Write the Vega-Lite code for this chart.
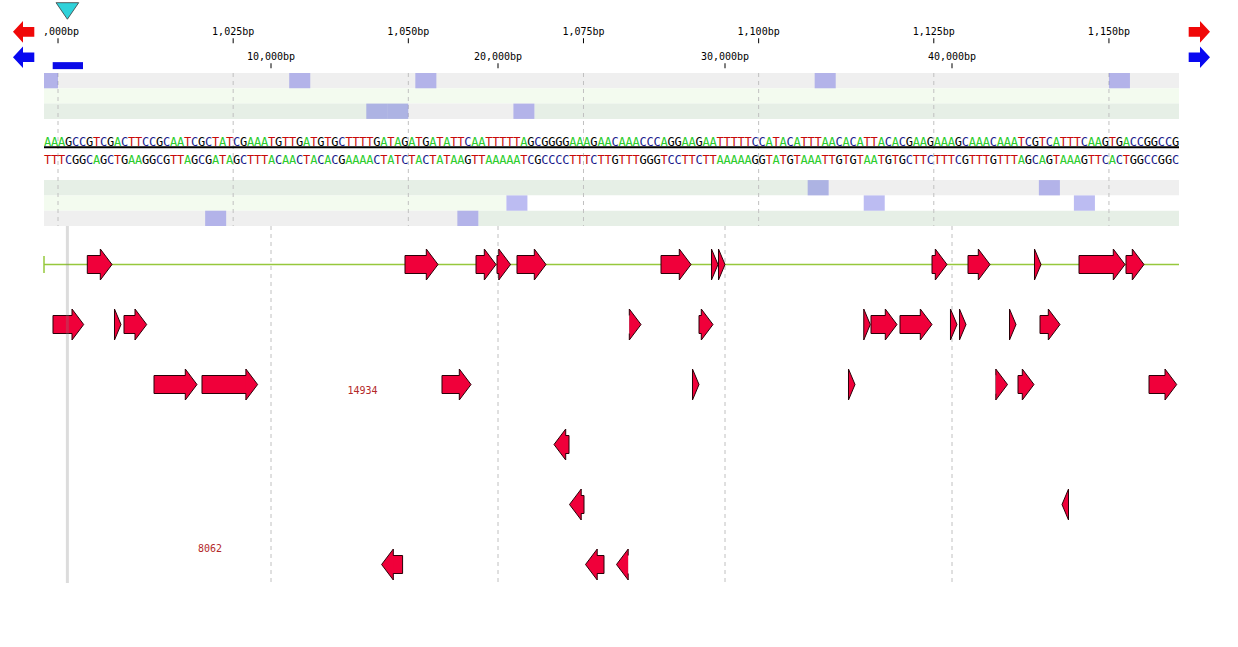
{
  "$schema": "https://vega.github.io/schema/vega-lite/v6.json",
  "autosize": {"type": "pad"},
  "padding": {"left": 12, "top": 0, "right": 29, "bottom": 64},
  "background": "white",
  "bounds": "flush",
  "spacing": 0,
  "config": {"view": {"stroke": null}, "font": "DejaVu Sans Mono", "scale": {"continuousPadding": 0}},
  "datasets": {
    "ruler1": [
      {"bp": 1000, "label": "1,000bp"}, {"bp": 1025, "label": "1,025bp"}, {"bp": 1050, "label": "1,050bp"},
      {"bp": 1075, "label": "1,075bp"}, {"bp": 1100, "label": "1,100bp"}, {"bp": 1125, "label": "1,125bp"},
      {"bp": 1150, "label": "1,150bp"}
    ],
    "ruler2": [
      {"pos": 10000, "label": "10,000bp"}, {"pos": 20000, "label": "20,000bp"},
      {"pos": 30000, "label": "30,000bp"}, {"pos": 40000, "label": "40,000bp"}
    ],
    "bg": [
      {"row": "F1", "start": 998, "end": 1160, "state": "gray"},
      {"row": "F2", "start": 998, "end": 1160, "state": "pale"},
      {"row": "F3", "start": 998, "end": 1050, "state": "green"},
      {"row": "F3", "start": 1050, "end": 1068, "state": "gray"},
      {"row": "F3", "start": 1068, "end": 1160, "state": "green"},
      {"row": "R1", "start": 998, "end": 1110, "state": "green"},
      {"row": "R1", "start": 1110, "end": 1160, "state": "gray"},
      {"row": "R2", "start": 998, "end": 1064, "state": "pale"},
      {"row": "R2", "start": 1064, "end": 1160, "state": "white"},
      {"row": "R3", "start": 998, "end": 1060, "state": "gray"},
      {"row": "R3", "start": 1060, "end": 1160, "state": "green"}
    ],
    "stops": [
      {"row": "F1", "start": 997, "end": 1000}, {"row": "F1", "start": 1033, "end": 1036},
      {"row": "F1", "start": 1051, "end": 1054}, {"row": "F1", "start": 1108, "end": 1111},
      {"row": "F1", "start": 1150, "end": 1153},
      {"row": "F3", "start": 1044, "end": 1047}, {"row": "F3", "start": 1047, "end": 1050},
      {"row": "F3", "start": 1065, "end": 1068},
      {"row": "R1", "start": 1107, "end": 1110}, {"row": "R1", "start": 1140, "end": 1143},
      {"row": "R2", "start": 1064, "end": 1067}, {"row": "R2", "start": 1115, "end": 1118},
      {"row": "R2", "start": 1145, "end": 1148},
      {"row": "R3", "start": 1021, "end": 1024}, {"row": "R3", "start": 1057, "end": 1060}
    ],
    "seq": [
      {"p":998,"s":"A","c":"T"},{"p":999,"s":"A","c":"T"},{"p":1000,"s":"A","c":"T"},{"p":1001,"s":"G","c":"C"},{"p":1002,"s":"C","c":"G"},
      {"p":1003,"s":"C","c":"G"},{"p":1004,"s":"G","c":"C"},{"p":1005,"s":"T","c":"A"},{"p":1006,"s":"C","c":"G"},{"p":1007,"s":"G","c":"C"},
      {"p":1008,"s":"A","c":"T"},{"p":1009,"s":"C","c":"G"},{"p":1010,"s":"T","c":"A"},{"p":1011,"s":"T","c":"A"},{"p":1012,"s":"C","c":"G"},
      {"p":1013,"s":"C","c":"G"},{"p":1014,"s":"G","c":"C"},{"p":1015,"s":"C","c":"G"},{"p":1016,"s":"A","c":"T"},{"p":1017,"s":"A","c":"T"},
      {"p":1018,"s":"T","c":"A"},{"p":1019,"s":"C","c":"G"},{"p":1020,"s":"G","c":"C"},{"p":1021,"s":"C","c":"G"},{"p":1022,"s":"T","c":"A"},
      {"p":1023,"s":"A","c":"T"},{"p":1024,"s":"T","c":"A"},{"p":1025,"s":"C","c":"G"},{"p":1026,"s":"G","c":"C"},{"p":1027,"s":"A","c":"T"},
      {"p":1028,"s":"A","c":"T"},{"p":1029,"s":"A","c":"T"},{"p":1030,"s":"T","c":"A"},{"p":1031,"s":"G","c":"C"},{"p":1032,"s":"T","c":"A"},
      {"p":1033,"s":"T","c":"A"},{"p":1034,"s":"G","c":"C"},{"p":1035,"s":"A","c":"T"},{"p":1036,"s":"T","c":"A"},{"p":1037,"s":"G","c":"C"},
      {"p":1038,"s":"T","c":"A"},{"p":1039,"s":"G","c":"C"},{"p":1040,"s":"C","c":"G"},{"p":1041,"s":"T","c":"A"},{"p":1042,"s":"T","c":"A"},
      {"p":1043,"s":"T","c":"A"},{"p":1044,"s":"T","c":"A"},{"p":1045,"s":"G","c":"C"},{"p":1046,"s":"A","c":"T"},{"p":1047,"s":"T","c":"A"},
      {"p":1048,"s":"A","c":"T"},{"p":1049,"s":"G","c":"C"},{"p":1050,"s":"A","c":"T"},{"p":1051,"s":"T","c":"A"},{"p":1052,"s":"G","c":"C"},
      {"p":1053,"s":"A","c":"T"},{"p":1054,"s":"T","c":"A"},{"p":1055,"s":"A","c":"T"},{"p":1056,"s":"T","c":"A"},{"p":1057,"s":"T","c":"A"},
      {"p":1058,"s":"C","c":"G"},{"p":1059,"s":"A","c":"T"},{"p":1060,"s":"A","c":"T"},{"p":1061,"s":"T","c":"A"},{"p":1062,"s":"T","c":"A"},
      {"p":1063,"s":"T","c":"A"},{"p":1064,"s":"T","c":"A"},{"p":1065,"s":"T","c":"A"},{"p":1066,"s":"A","c":"T"},{"p":1067,"s":"G","c":"C"},
      {"p":1068,"s":"C","c":"G"},{"p":1069,"s":"G","c":"C"},{"p":1070,"s":"G","c":"C"},{"p":1071,"s":"G","c":"C"},{"p":1072,"s":"G","c":"C"},
      {"p":1073,"s":"A","c":"T"},{"p":1074,"s":"A","c":"T"},{"p":1075,"s":"A","c":"T"},{"p":1076,"s":"G","c":"C"},{"p":1077,"s":"A","c":"T"},
      {"p":1078,"s":"A","c":"T"},{"p":1079,"s":"C","c":"G"},{"p":1080,"s":"A","c":"T"},{"p":1081,"s":"A","c":"T"},{"p":1082,"s":"A","c":"T"},
      {"p":1083,"s":"C","c":"G"},{"p":1084,"s":"C","c":"G"},{"p":1085,"s":"C","c":"G"},{"p":1086,"s":"A","c":"T"},{"p":1087,"s":"G","c":"C"},
      {"p":1088,"s":"G","c":"C"},{"p":1089,"s":"A","c":"T"},{"p":1090,"s":"A","c":"T"},{"p":1091,"s":"G","c":"C"},{"p":1092,"s":"A","c":"T"},
      {"p":1093,"s":"A","c":"T"},{"p":1094,"s":"T","c":"A"},{"p":1095,"s":"T","c":"A"},{"p":1096,"s":"T","c":"A"},{"p":1097,"s":"T","c":"A"},
      {"p":1098,"s":"T","c":"A"},{"p":1099,"s":"C","c":"G"},{"p":1100,"s":"C","c":"G"},{"p":1101,"s":"A","c":"T"},{"p":1102,"s":"T","c":"A"},
      {"p":1103,"s":"A","c":"T"},{"p":1104,"s":"C","c":"G"},{"p":1105,"s":"A","c":"T"},{"p":1106,"s":"T","c":"A"},{"p":1107,"s":"T","c":"A"},
      {"p":1108,"s":"T","c":"A"},{"p":1109,"s":"A","c":"T"},{"p":1110,"s":"A","c":"T"},{"p":1111,"s":"C","c":"G"},{"p":1112,"s":"A","c":"T"},
      {"p":1113,"s":"C","c":"G"},{"p":1114,"s":"A","c":"T"},{"p":1115,"s":"T","c":"A"},{"p":1116,"s":"T","c":"A"},{"p":1117,"s":"A","c":"T"},
      {"p":1118,"s":"C","c":"G"},{"p":1119,"s":"A","c":"T"},{"p":1120,"s":"C","c":"G"},{"p":1121,"s":"G","c":"C"},{"p":1122,"s":"A","c":"T"},
      {"p":1123,"s":"A","c":"T"},{"p":1124,"s":"G","c":"C"},{"p":1125,"s":"A","c":"T"},{"p":1126,"s":"A","c":"T"},{"p":1127,"s":"A","c":"T"},
      {"p":1128,"s":"G","c":"C"},{"p":1129,"s":"C","c":"G"},{"p":1130,"s":"A","c":"T"},{"p":1131,"s":"A","c":"T"},{"p":1132,"s":"A","c":"T"},
      {"p":1133,"s":"C","c":"G"},{"p":1134,"s":"A","c":"T"},{"p":1135,"s":"A","c":"T"},{"p":1136,"s":"A","c":"T"},{"p":1137,"s":"T","c":"A"},
      {"p":1138,"s":"C","c":"G"},{"p":1139,"s":"G","c":"C"},{"p":1140,"s":"T","c":"A"},{"p":1141,"s":"C","c":"G"},{"p":1142,"s":"A","c":"T"},
      {"p":1143,"s":"T","c":"A"},{"p":1144,"s":"T","c":"A"},{"p":1145,"s":"T","c":"A"},{"p":1146,"s":"C","c":"G"},{"p":1147,"s":"A","c":"T"},
      {"p":1148,"s":"A","c":"T"},{"p":1149,"s":"G","c":"C"},{"p":1150,"s":"T","c":"A"},{"p":1151,"s":"G","c":"C"},{"p":1152,"s":"A","c":"T"},
      {"p":1153,"s":"C","c":"G"},{"p":1154,"s":"C","c":"G"},{"p":1155,"s":"G","c":"C"},{"p":1156,"s":"G","c":"C"},{"p":1157,"s":"C","c":"G"},
      {"p":1158,"s":"C","c":"G"},{"p":1159,"s":"G","c":"C"}
    ],
    "orfs": [
      {"lane":1,"start":1908,"end":2996},{"lane":1,"start":15903,"end":17357},{"lane":1,"start":19031,"end":19912},
      {"lane":1,"start":19956,"end":20551},{"lane":1,"start":20837,"end":22115},{"lane":1,"start":27181,"end":28502},
      {"lane":1,"start":29471,"end":29692},{"lane":1,"start":29736,"end":30000},{"lane":1,"start":39119,"end":39780},
      {"lane":1,"start":40705,"end":41674},{"lane":1,"start":43612,"end":43921},{"lane":1,"start":45595,"end":47621},
      {"lane":1,"start":47665,"end":48458},
      {"lane":2,"start":396,"end":1749},{"lane":2,"start":3172,"end":3392},{"lane":2,"start":3524,"end":4524},
      {"lane":2,"start":25815,"end":26300},{"lane":2,"start":28855,"end":29471},{"lane":2,"start":36079,"end":36400},
      {"lane":2,"start":36432,"end":37577},{"lane":2,"start":37709,"end":39119},{"lane":2,"start":39868,"end":40220},
      {"lane":2,"start":40264,"end":40617},{"lane":2,"start":42555,"end":42820},{"lane":2,"start":43877,"end":44758},
      {"lane":3,"start":4846,"end":6740},{"lane":3,"start":6960,"end":9410},{"lane":3,"start":17533,"end":18811},
      {"lane":3,"start":28502,"end":28855},{"lane":3,"start":35507,"end":35727},{"lane":3,"start":41938,"end":42445},
      {"lane":3,"start":42908,"end":43612},{"lane":3,"start":48679,"end":49899},
      {"lane":4,"start":22467,"end":23128},
      {"lane":5,"start":23150,"end":23789},{"lane":5,"start":44846,"end":45154},
      {"lane":6,"start":14872,"end":15797},{"lane":6,"start":23855,"end":24670},{"lane":6,"start":25220,"end":25705}
    ]
  },
  "vconcat": [
    {
      "width": 1135,
      "height": 73,
      "resolve": {"scale": {"x": "independent"}},
      "layer": [
        {
          "data": {"values": [{}]},
          "mark": {"type": "point", "shape": "M-1,-0.73L1,-0.73L0,0.73Z", "size": 515, "filled": true, "color": "#2fd2da", "stroke": "#3c3c3c", "strokeWidth": 0.8, "opacity": 1, "yOffset": -1.2},
          "encoding": {
            "x": {"datum": 1030, "type": "quantitative", "scale": {"domain": [0, 50000], "nice": false, "zero": false, "padding": 0}, "axis": null},
            "y": {"datum": "cursor", "type": "nominal", "scale": {"type": "band", "domain": ["cursor", "r1", "r2"], "paddingInner": 0, "paddingOuter": 0}, "axis": null}
          }
        },
        {
          "data": {"values": [{"start": 383, "end": 1718}]},
          "mark": {"type": "bar", "orient": "horizontal", "color": "#0a0ae8", "size": 7, "yOffset": 4.8},
          "encoding": {
            "x": {"field": "start", "type": "quantitative", "scale": {"domain": [0, 50000], "nice": false, "zero": false, "padding": 0}, "axis": null},
            "x2": {"field": "end"},
            "y": {"datum": "r2", "type": "nominal", "scale": {"type": "band", "domain": ["cursor", "r1", "r2"], "paddingInner": 0, "paddingOuter": 0}, "axis": null}
          }
        },
        {
          "data": {"name": "ruler1"},
          "mark": {"type": "tick", "orient": "vertical", "size": 5, "thickness": 1, "color": "#000000", "opacity": 1, "yOffset": 4.3},
          "encoding": {
            "x": {"field": "bp", "type": "quantitative", "scale": {"domain": [998, 1160], "nice": false, "zero": false, "padding": 0}, "axis": null},
            "y": {"datum": "r1", "type": "nominal", "scale": {"type": "band", "domain": ["cursor", "r1", "r2"], "paddingInner": 0, "paddingOuter": 0}, "axis": null}
          }
        },
        {
          "data": {"name": "ruler1"},
          "mark": {"type": "text", "clip": true, "font": "DejaVu Sans Mono", "fontSize": 10, "color": "#000000", "align": "center", "baseline": "alphabetic", "dy": -1.2},
          "encoding": {
            "x": {"field": "bp", "type": "quantitative", "scale": {"domain": [998, 1160], "nice": false, "zero": false, "padding": 0}, "axis": null},
            "y": {"datum": "r1", "type": "nominal", "scale": {"type": "band", "domain": ["cursor", "r1", "r2"], "paddingInner": 0, "paddingOuter": 0}, "axis": null},
            "text": {"field": "label"}
          }
        },
        {
          "data": {"name": "ruler2"},
          "mark": {"type": "tick", "orient": "vertical", "size": 5, "thickness": 1, "color": "#000000", "opacity": 1, "yOffset": 5},
          "encoding": {
            "x": {"field": "pos", "type": "quantitative", "scale": {"domain": [0, 50000], "nice": false, "zero": false, "padding": 0}, "axis": null},
            "y": {"datum": "r2", "type": "nominal", "scale": {"type": "band", "domain": ["cursor", "r1", "r2"], "paddingInner": 0, "paddingOuter": 0}, "axis": null}
          }
        },
        {
          "data": {"name": "ruler2"},
          "mark": {"type": "text", "clip": true, "font": "DejaVu Sans Mono", "fontSize": 10, "color": "#000000", "align": "center", "baseline": "alphabetic", "dy": -0.8},
          "encoding": {
            "x": {"field": "pos", "type": "quantitative", "scale": {"domain": [0, 50000], "nice": false, "zero": false, "padding": 0}, "axis": null},
            "y": {"datum": "r2", "type": "nominal", "scale": {"type": "band", "domain": ["cursor", "r1", "r2"], "paddingInner": 0, "paddingOuter": 0}, "axis": null},
            "text": {"field": "label"}
          }
        },
        {
          "data": {"values": [{"bp": 995.095, "dir": "left"}, {"bp": 1162.904, "dir": "right"}]},
          "mark": {"type": "point", "size": 471, "filled": true, "color": "#f00808", "opacity": 1, "yOffset": -4.7},
          "encoding": {
            "x": {"field": "bp", "type": "quantitative", "scale": {"domain": [998, 1160], "nice": false, "zero": false, "padding": 0}, "axis": null},
            "y": {"datum": "r1", "type": "nominal", "scale": {"type": "band", "domain": ["cursor", "r1", "r2"], "paddingInner": 0, "paddingOuter": 0}, "axis": null},
            "shape": {"field": "dir", "type": "nominal", "legend": null, "scale": {"domain": ["left", "right"], "range": ["M-0.982,0L-0.06,-1L-0.06,-0.447L0.982,-0.447L0.982,0.447L-0.06,0.447L-0.06,1Z", "M0.982,0L0.06,-1L0.06,-0.447L-0.982,-0.447L-0.982,0.447L0.06,0.447L0.06,1Z"]}}
          }
        },
        {
          "data": {"values": [{"bp": 995.095, "dir": "left"}, {"bp": 1162.904, "dir": "right"}]},
          "mark": {"type": "point", "size": 471, "filled": true, "color": "#0808f0", "opacity": 1, "yOffset": -3.6},
          "encoding": {
            "x": {"field": "bp", "type": "quantitative", "scale": {"domain": [998, 1160], "nice": false, "zero": false, "padding": 0}, "axis": null},
            "y": {"datum": "r2", "type": "nominal", "scale": {"type": "band", "domain": ["cursor", "r1", "r2"], "paddingInner": 0, "paddingOuter": 0}, "axis": null},
            "shape": {"field": "dir", "type": "nominal", "legend": null, "scale": {"domain": ["left", "right"], "range": ["M-0.982,0L-0.06,-1L-0.06,-0.447L0.982,-0.447L0.982,0.447L-0.06,0.447L-0.06,1Z", "M0.982,0L0.06,-1L0.06,-0.447L-0.982,-0.447L-0.982,0.447L0.06,0.447L0.06,1Z"]}}
          }
        }
      ]
    },
    {
      "width": 1135,
      "height": 153,
      "resolve": {"scale": {"color": "independent"}},
      "layer": [
        {
          "data": {"name": "bg"},
          "mark": {"type": "rect"},
          "encoding": {
            "x": {"field": "start", "type": "quantitative", "scale": {"domain": [998, 1160], "nice": false, "zero": false, "padding": 0}, "axis": null},
            "x2": {"field": "end"},
            "y": {"field": "row", "type": "nominal", "scale": {"type": "band", "domain": ["F1", "F2", "F3", "gap1", "seq+", "seq-", "gap2", "R1", "R2", "R3"], "paddingInner": 0, "paddingOuter": 0}, "axis": null},
            "color": {"field": "state", "type": "nominal", "legend": null, "scale": {"domain": ["gray", "green", "pale", "white"], "range": ["#efefef", "#e6efe6", "#f3fbef", "#ffffff"]}}
          }
        },
        {
          "data": {"name": "ruler1"},
          "mark": {"type": "rule", "color": "#c0c0c0", "strokeWidth": 1, "strokeDash": [4, 4]},
          "encoding": {
            "x": {"field": "bp", "type": "quantitative", "scale": {"domain": [998, 1160], "nice": false, "zero": false, "padding": 0}, "axis": null}
          }
        },
        {
          "data": {"name": "stops"},
          "mark": {"type": "rect", "clip": true, "color": "#6060e0", "opacity": 0.42},
          "encoding": {
            "x": {"field": "start", "type": "quantitative", "scale": {"domain": [998, 1160], "nice": false, "zero": false, "padding": 0}, "axis": null},
            "x2": {"field": "end"},
            "y": {"field": "row", "type": "nominal", "scale": {"type": "band", "domain": ["F1", "F2", "F3", "gap1", "seq+", "seq-", "gap2", "R1", "R2", "R3"], "paddingInner": 0, "paddingOuter": 0}, "axis": null}
          }
        },
        {
          "data": {"values": [{}]},
          "mark": {"type": "rule", "color": "#000000", "strokeWidth": 2, "yOffset": 5.5},
          "encoding": {
            "x": {"datum": 998, "type": "quantitative", "scale": {"domain": [998, 1160], "nice": false, "zero": false, "padding": 0}, "axis": null},
            "x2": {"datum": 1160},
            "y": {"datum": "seq+", "type": "nominal", "scale": {"type": "band", "domain": ["F1", "F2", "F3", "gap1", "seq+", "seq-", "gap2", "R1", "R2", "R3"], "paddingInner": 0, "paddingOuter": 0}, "axis": null}
          }
        },
        {
          "data": {"name": "seq"},
          "mark": {"type": "text", "font": "DejaVu Sans Mono", "fontSize": 12, "align": "center", "baseline": "alphabetic", "dx": 3.5, "dy": 3.85},
          "encoding": {
            "x": {"field": "p", "type": "quantitative", "scale": {"domain": [998, 1160], "nice": false, "zero": false, "padding": 0}, "axis": null},
            "y": {"datum": "seq+", "type": "nominal", "scale": {"type": "band", "domain": ["F1", "F2", "F3", "gap1", "seq+", "seq-", "gap2", "R1", "R2", "R3"], "paddingInner": 0, "paddingOuter": 0}, "axis": null},
            "text": {"field": "s"},
            "color": {"field": "s", "type": "nominal", "legend": null, "scale": {"domain": ["A", "C", "G", "T"], "range": ["#2ccc2c", "#1a1a8c", "#000000", "#c80a0a"]}}
          }
        },
        {
          "data": {"name": "seq"},
          "mark": {"type": "text", "font": "DejaVu Sans Mono", "fontSize": 12, "align": "center", "baseline": "alphabetic", "dx": 3.5, "dy": 6.85},
          "encoding": {
            "x": {"field": "p", "type": "quantitative", "scale": {"domain": [998, 1160], "nice": false, "zero": false, "padding": 0}, "axis": null},
            "y": {"datum": "seq-", "type": "nominal", "scale": {"type": "band", "domain": ["F1", "F2", "F3", "gap1", "seq+", "seq-", "gap2", "R1", "R2", "R3"], "paddingInner": 0, "paddingOuter": 0}, "axis": null},
            "text": {"field": "c"},
            "color": {"field": "c", "type": "nominal", "legend": null, "scale": {"domain": ["A", "C", "G", "T"], "range": ["#2ccc2c", "#1a1a8c", "#000000", "#c80a0a"]}}
          }
        }
      ]
    },
    {
      "width": 1135,
      "height": 357,
      "layer": [
        {
          "data": {"name": "ruler2"},
          "mark": {"type": "rule", "color": "#c0c0c0", "strokeWidth": 1, "strokeDash": [4, 4]},
          "encoding": {
            "x": {"field": "pos", "type": "quantitative", "scale": {"domain": [0, 50000], "nice": false, "zero": false, "padding": 0}, "axis": null}
          }
        },
        {
          "data": {"values": [{}]},
          "mark": {"type": "rule", "color": "#96c83c", "strokeWidth": 1.6},
          "encoding": {
            "x": {"datum": 0, "type": "quantitative", "scale": {"domain": [0, 50000], "nice": false, "zero": false, "padding": 0}, "axis": null},
            "x2": {"datum": 50000},
            "y": {"datum": 1, "type": "quantitative", "scale": {"domain": [0.3583, 6.3083], "reverse": true, "nice": false, "zero": false, "padding": 0}, "axis": null}
          }
        },
        {
          "data": {"values": [{}]},
          "mark": {"type": "tick", "orient": "vertical", "size": 17, "thickness": 1.5, "color": "#96c83c", "opacity": 1},
          "encoding": {
            "x": {"datum": 0, "type": "quantitative", "scale": {"domain": [0, 50000], "nice": false, "zero": false, "padding": 0}, "axis": null},
            "y": {"datum": 1, "type": "quantitative", "scale": {"domain": [0.3583, 6.3083], "reverse": true, "nice": false, "zero": false, "padding": 0}, "axis": null}
          }
        },
        {
          "data": {"name": "orfs"},
          "transform": [{"filter": "datum.lane <= 3 && datum.end - datum.start >= 440"}],
          "mark": {"type": "bar", "orient": "horizontal", "size": 18, "color": "#f0003a", "stroke": "#2a0008", "strokeWidth": 1, "x2Offset": -10},
          "encoding": {
            "x": {"field": "start", "type": "quantitative", "scale": {"domain": [0, 50000], "nice": false, "zero": false, "padding": 0}, "axis": null},
            "x2": {"field": "end"},
            "y": {"field": "lane", "type": "quantitative", "scale": {"domain": [0.3583, 6.3083], "reverse": true, "nice": false, "zero": false, "padding": 0}, "axis": null}
          }
        },
        {
          "data": {"name": "orfs"},
          "transform": [{"filter": "datum.lane <= 3 && datum.end - datum.start >= 440"}],
          "mark": {"type": "point", "shape": "M-0.755,-0.58L-0.755,-1L0,0L-0.755,1L-0.755,0.58", "size": 961, "filled": true, "color": "#f0003a", "stroke": "#2a0008", "strokeWidth": 1, "opacity": 1},
          "encoding": {
            "x": {"field": "end", "type": "quantitative", "scale": {"domain": [0, 50000], "nice": false, "zero": false, "padding": 0}, "axis": null},
            "y": {"field": "lane", "type": "quantitative", "scale": {"domain": [0.3583, 6.3083], "reverse": true, "nice": false, "zero": false, "padding": 0}, "axis": null}
          }
        },
        {
          "data": {"name": "orfs"},
          "transform": [{"filter": "datum.lane <= 3 && datum.end - datum.start < 440"}],
          "mark": {"type": "point", "shape": "M-0.42,-1L0,0L-0.42,1Z", "size": 961, "filled": true, "color": "#f0003a", "stroke": "#2a0008", "strokeWidth": 1, "opacity": 1},
          "encoding": {
            "x": {"field": "end", "type": "quantitative", "scale": {"domain": [0, 50000], "nice": false, "zero": false, "padding": 0}, "axis": null},
            "y": {"field": "lane", "type": "quantitative", "scale": {"domain": [0.3583, 6.3083], "reverse": true, "nice": false, "zero": false, "padding": 0}, "axis": null}
          }
        },
        {
          "data": {"name": "orfs"},
          "transform": [{"filter": "datum.lane >= 4 && datum.end - datum.start >= 440"}],
          "mark": {"type": "bar", "orient": "horizontal", "size": 18, "color": "#f0003a", "stroke": "#2a0008", "strokeWidth": 1, "xOffset": 10},
          "encoding": {
            "x": {"field": "start", "type": "quantitative", "scale": {"domain": [0, 50000], "nice": false, "zero": false, "padding": 0}, "axis": null},
            "x2": {"field": "end"},
            "y": {"field": "lane", "type": "quantitative", "scale": {"domain": [0.3583, 6.3083], "reverse": true, "nice": false, "zero": false, "padding": 0}, "axis": null}
          }
        },
        {
          "data": {"name": "orfs"},
          "transform": [{"filter": "datum.lane >= 4 && datum.end - datum.start >= 440"}],
          "mark": {"type": "point", "shape": "M0.755,-0.58L0.755,-1L0,0L0.755,1L0.755,0.58", "size": 961, "filled": true, "color": "#f0003a", "stroke": "#2a0008", "strokeWidth": 1, "opacity": 1},
          "encoding": {
            "x": {"field": "start", "type": "quantitative", "scale": {"domain": [0, 50000], "nice": false, "zero": false, "padding": 0}, "axis": null},
            "y": {"field": "lane", "type": "quantitative", "scale": {"domain": [0.3583, 6.3083], "reverse": true, "nice": false, "zero": false, "padding": 0}, "axis": null}
          }
        },
        {
          "data": {"name": "orfs"},
          "transform": [{"filter": "datum.lane >= 4 && datum.end - datum.start < 440"}],
          "mark": {"type": "point", "shape": "M0.42,-1L0,0L0.42,1Z", "size": 961, "filled": true, "color": "#f0003a", "stroke": "#2a0008", "strokeWidth": 1, "opacity": 1},
          "encoding": {
            "x": {"field": "start", "type": "quantitative", "scale": {"domain": [0, 50000], "nice": false, "zero": false, "padding": 0}, "axis": null},
            "y": {"field": "lane", "type": "quantitative", "scale": {"domain": [0.3583, 6.3083], "reverse": true, "nice": false, "zero": false, "padding": 0}, "axis": null}
          }
        },
        {
          "data": {"values": [{}]},
          "mark": {"type": "rule", "color": "#808080", "opacity": 0.28, "strokeWidth": 3},
          "encoding": {
            "x": {"datum": 1030, "type": "quantitative", "scale": {"domain": [0, 50000], "nice": false, "zero": false, "padding": 0}, "axis": null}
          }
        },
        {
          "data": {"values": [{"pos": 14031, "lane": 3, "label": "14934"}]},
          "mark": {"type": "text", "font": "DejaVu Sans Mono", "fontSize": 10, "color": "#b42828", "align": "center", "baseline": "middle", "dy": 6},
          "encoding": {
            "x": {"field": "pos", "type": "quantitative", "scale": {"domain": [0, 50000], "nice": false, "zero": false, "padding": 0}, "axis": null},
            "y": {"field": "lane", "type": "quantitative", "scale": {"domain": [0.3583, 6.3083], "reverse": true, "nice": false, "zero": false, "padding": 0}, "axis": null},
            "text": {"field": "label"}
          }
        },
        {
          "data": {"values": [{"pos": 7313, "lane": 6, "label": "8062"}]},
          "mark": {"type": "text", "font": "DejaVu Sans Mono", "fontSize": 10, "color": "#b42828", "align": "center", "baseline": "middle", "dy": -15.5},
          "encoding": {
            "x": {"field": "pos", "type": "quantitative", "scale": {"domain": [0, 50000], "nice": false, "zero": false, "padding": 0}, "axis": null},
            "y": {"field": "lane", "type": "quantitative", "scale": {"domain": [0.3583, 6.3083], "reverse": true, "nice": false, "zero": false, "padding": 0}, "axis": null},
            "text": {"field": "label"}
          }
        }
      ]
    }
  ]
}
